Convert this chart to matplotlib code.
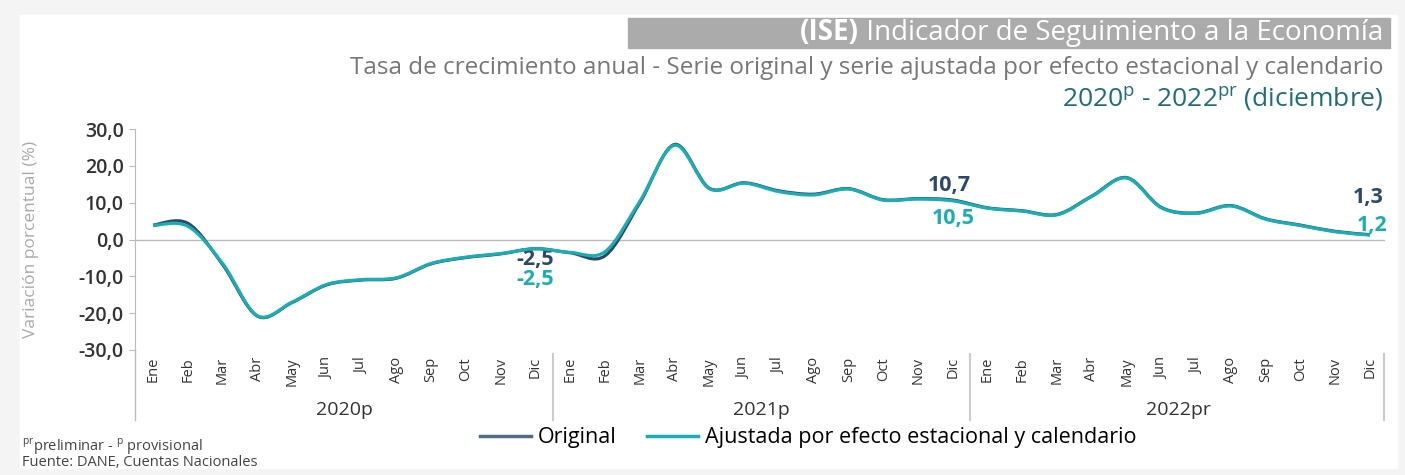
import matplotlib
matplotlib.use("Agg")
import matplotlib.pyplot as plt
from matplotlib.path import Path
from matplotlib.patches import PathPatch, Rectangle
from matplotlib.lines import Line2D
import matplotlib.transforms as mtransforms

plt.rcParams['font.family'] = ['Open Sans', 'DejaVu Sans']
plt.rcParams['mathtext.fontset'] = 'custom'
plt.rcParams['mathtext.rm'] = 'Open Sans'
plt.rcParams['mathtext.bf'] = 'Open Sans:bold'

# meses y años
months = ['Ene', 'Feb', 'Mar', 'Abr', 'May', 'Jun', 'Jul', 'Ago', 'Sep', 'Oct', 'Nov', 'Dic']
years = ['2020p', '2021p', '2022pr']

# variación anual (%)
original = [3.9, 4.4, -6.8, -20.8, -17.1, -12.3, -11.0, -10.5, -6.6, -4.9, -3.9, -2.5,
            -3.6, -4.4, 10.0, 25.8, 13.9, 15.4, 13.2, 12.3, 13.8, 10.8, 11.1, 10.7,
            8.6, 7.8, 6.8, 11.8, 16.8, 8.7, 7.2, 9.2, 5.6, 3.9, 2.2, 1.3]
ajustada = [3.8, 3.6, -6.5, -20.7, -17.0, -12.2, -10.9, -10.4, -6.5, -4.8, -3.8, -2.5,
            -3.5, -3.3, 10.4, 25.6, 13.8, 15.3, 13.0, 12.1, 13.7, 10.7, 11.0, 10.5,
            8.5, 7.7, 6.7, 11.7, 16.7, 8.6, 7.1, 9.1, 5.5, 3.8, 2.1, 1.2]

c_orig = '#2B4A6A'
c_adj = '#19AEB3'


def smooth_path(xs, ys):
    # curva tipo "línea suavizada" de Excel (Catmull-Rom -> Bezier)
    n = len(xs)
    verts = [(xs[0], ys[0])]
    codes = [Path.MOVETO]
    for i in range(n - 1):
        x0, y0 = xs[max(i - 1, 0)], ys[max(i - 1, 0)]
        x1, y1 = xs[i], ys[i]
        x2, y2 = xs[i + 1], ys[i + 1]
        x3, y3 = xs[min(i + 2, n - 1)], ys[min(i + 2, n - 1)]
        verts += [(x1 + (x2 - x0) / 6, y1 + (y2 - y0) / 6),
                  (x2 - (x3 - x1) / 6, y2 - (y3 - y1) / 6),
                  (x2, y2)]
        codes += [Path.CURVE4] * 3
    return Path(verts, codes)


W, H = 1405, 475
fig = plt.figure(figsize=(14.05, 4.75), dpi=100, facecolor='#F4F4F4')
# panel blanco con marco gris claro
fig.patches.append(Rectangle((20 / W, 1 - 468 / H), 1377 / W, 453 / H,
                             transform=fig.transFigure, color='white', zorder=-1))

ax = fig.add_axes([135 / W, 1 - 350 / H, 1250 / W, 221 / H])
ax.patch.set_alpha(0)

x = list(range(len(original)))
ax.add_patch(PathPatch(smooth_path(x, original), fill=False, edgecolor=c_orig, lw=2.3, zorder=3))
ax.add_patch(PathPatch(smooth_path(x, ajustada), fill=False, edgecolor=c_adj, lw=2.3, zorder=4))

ax.set_xlim(-0.52, 35.43)
ax.set_ylim(-30, 30)
ax.axhline(0, color='#BBBBBB', lw=1, zorder=1)

for s in ['top', 'right', 'bottom']:
    ax.spines[s].set_visible(False)
ax.spines['left'].set_color('#BBBBBB')
ax.spines['left'].set_bounds(-30, 30)

yt = [-30, -20, -10, 0, 10, 20, 30]
ax.set_yticks(yt)
ax.set_yticklabels([('%.1f' % v).replace('.', ',') for v in yt],
                   fontsize=14, fontweight='semibold', color='#333333')
ax.tick_params(axis='y', length=4, color='#BBBBBB', pad=4)

ax.set_xticks(x)
ax.set_xticklabels(months * 3, rotation=90, fontsize=10.5, color='#333333')
ax.tick_params(axis='x', length=0, pad=5)

ax.set_ylabel('Variación porcentual (%)', fontsize=12.5, color='#AAAAAA')
ax.yaxis.set_label_coords(-0.077, 0.5)

# líneas verticales del eje de categorías
trans = mtransforms.blended_transform_factory(ax.transData, ax.transAxes)
ax.plot([-0.52, -0.52], [0, -0.317], transform=trans, color='#BBBBBB', lw=1, clip_on=False)
for xv in [11.5, 23.5, 35.4]:
    ax.plot([xv, xv], [-0.02, -0.317], transform=trans, color='#CCCCCC', lw=1.5, clip_on=False)
for i, yr in enumerate(years):
    ax.text(i * 12 + 5.5, -0.272, yr, transform=trans, ha='center', va='center',
            fontsize=14, color='#333333')

# etiquetas de datos
labels = [(11, original, c_orig, 0, -11), (11, ajustada, c_adj, 0, -31),
          (23, original, c_orig, -0.1, 15), (23, ajustada, c_adj, 0, -18),
          (35, original, c_orig, -0.05, 37), (35, ajustada, c_adj, 0.05, 10)]
for i, serie, col, dx, dy in labels:
    ax.annotate(('%.1f' % serie[i]).replace('.', ','), (i + dx, serie[i]),
                xytext=(0, dy * 0.72), textcoords='offset points',
                ha='center', va='center', fontsize=15.5, fontweight='bold', color=col)

# título
fig.patches.append(Rectangle((628 / W, 1 - 48 / H), 762 / W, 30 / H,
                             transform=fig.transFigure, color='#ABABAB', zorder=0))
t1 = fig.text(1383 / W, 1 - 33 / H, ' Indicador de Seguimiento a la Economía', ha='right',
              va='center', fontsize=20, color='white')
fig.canvas.draw()
bb = t1.get_window_extent()
fig.text(bb.x0 / W, 1 - 33 / H, '(ISE)', ha='right', va='center', fontsize=20,
         fontweight='bold', color='white')
fig.text(1383 / W, 1 - 68 / H,
         'Tasa de crecimiento anual - Serie original y serie ajustada por efecto estacional y calendario',
         ha='right', va='center', fontsize=17.5, color='#777777')
fig.text(1383 / W, 1 - 99 / H, r'2020$^{\mathrm{p}}$ - 2022$^{\mathrm{pr}}$ (diciembre)',
         ha='right', va='center', fontsize=19, color='#1D6E78')

# leyenda
handles = [Line2D([], [], color='#4F6D8A', lw=2.5), Line2D([], [], color=c_adj, lw=2.5)]
fig.legend(handles, ['Original', 'Ajustada por efecto estacional y calendario'],
           loc='center', bbox_to_anchor=(808 / W, 1 - 438 / H), ncol=2, frameon=False,
           fontsize=15.5, handlelength=2.4, columnspacing=1.4, handletextpad=0.3)

# notas
fig.text(22 / W, 1 - 447 / H, r'$^{\mathrm{pr}}$preliminar - $^{\mathrm{p}}$ provisional',
         ha='left', va='center', fontsize=10.5, color='#444444')
fig.text(22 / W, 1 - 462 / H, 'Fuente: DANE, Cuentas Nacionales', ha='left', va='center',
         fontsize=10.5, color='#444444')

fig.savefig('out.png', dpi=100, facecolor=fig.get_facecolor())
